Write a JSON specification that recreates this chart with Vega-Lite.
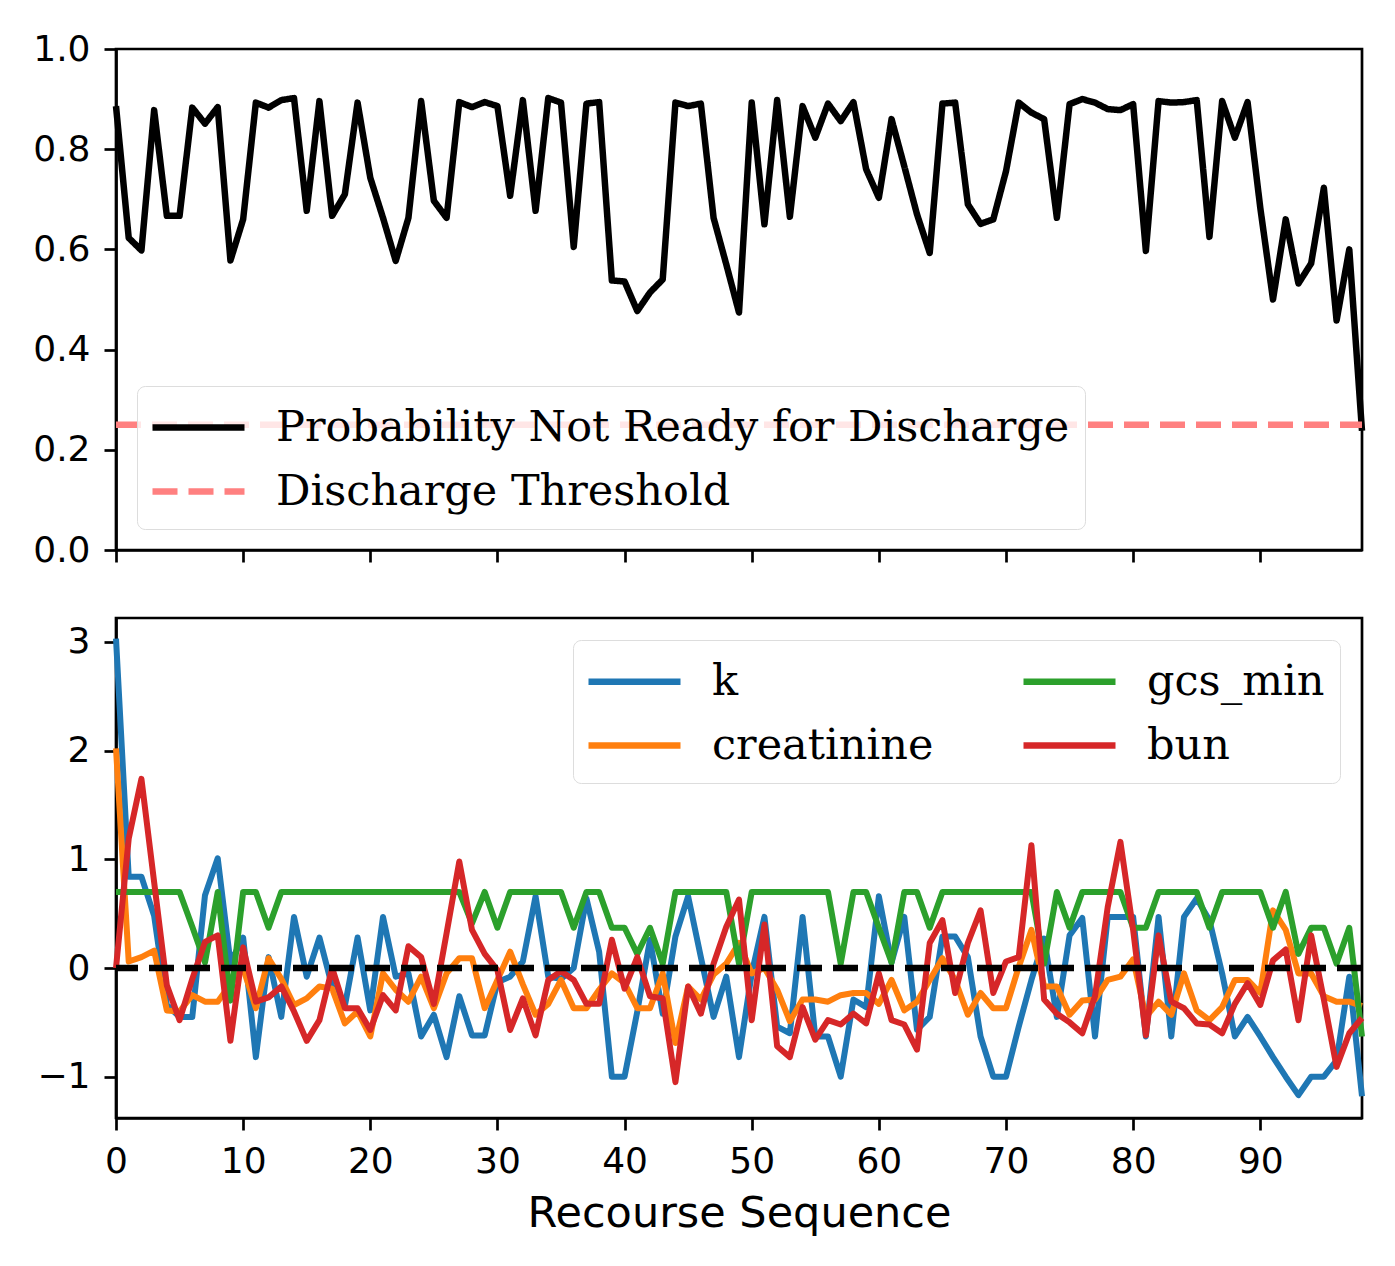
{
  "$schema": "https://vega.github.io/schema/vega-lite/v6.json",
  "padding": {"left": 31, "top": 29, "right": 20, "bottom": 20},
  "background": "white",
  "config": {
    "view": {"stroke": "black", "strokeWidth": 2.7},
    "axis": {
      "labelFont": "DejaVu Sans", "labelFontSize": 36, "labelColor": "black",
      "tickColor": "black", "tickSize": 12, "tickWidth": 2.7,
      "domainColor": "black", "domainWidth": 2.7, "grid": false,
      "titleFont": "DejaVu Sans", "titleFontSize": 43, "titleFontWeight": "normal", "titleColor": "black",
      "labelPadding": 14, "labelFlush": false
    },
    "legend": {
      "title": null, "symbolType": "M-2,0H2", "symbolSize": 2116, "symbolStrokeWidth": 6.5, "symbolOffset": 20,
      "labelFont": "DejaVu Serif", "labelFontSize": 43, "labelColor": "black", "labelOffset": 51,
      "labelLimit": 0, "rowPadding": 15, "padding": 15,
      "fillColor": "rgba(255,255,255,0.8)", "strokeColor": "#dddddd", "cornerRadius": 8
    }
  },
  "datasets": {
    "prob": [
      {"seq": 0, "value": 0.886, "series": "Probability Not Ready for Discharge"},
      {"seq": 1, "value": 0.623, "series": "Probability Not Ready for Discharge"},
      {"seq": 2, "value": 0.598, "series": "Probability Not Ready for Discharge"},
      {"seq": 3, "value": 0.878, "series": "Probability Not Ready for Discharge"},
      {"seq": 4, "value": 0.667, "series": "Probability Not Ready for Discharge"},
      {"seq": 5, "value": 0.667, "series": "Probability Not Ready for Discharge"},
      {"seq": 6, "value": 0.883, "series": "Probability Not Ready for Discharge"},
      {"seq": 7, "value": 0.851, "series": "Probability Not Ready for Discharge"},
      {"seq": 8, "value": 0.884, "series": "Probability Not Ready for Discharge"},
      {"seq": 9, "value": 0.578, "series": "Probability Not Ready for Discharge"},
      {"seq": 10, "value": 0.660, "series": "Probability Not Ready for Discharge"},
      {"seq": 11, "value": 0.893, "series": "Probability Not Ready for Discharge"},
      {"seq": 12, "value": 0.883, "series": "Probability Not Ready for Discharge"},
      {"seq": 13, "value": 0.898, "series": "Probability Not Ready for Discharge"},
      {"seq": 14, "value": 0.902, "series": "Probability Not Ready for Discharge"},
      {"seq": 15, "value": 0.677, "series": "Probability Not Ready for Discharge"},
      {"seq": 16, "value": 0.896, "series": "Probability Not Ready for Discharge"},
      {"seq": 17, "value": 0.667, "series": "Probability Not Ready for Discharge"},
      {"seq": 18, "value": 0.710, "series": "Probability Not Ready for Discharge"},
      {"seq": 19, "value": 0.893, "series": "Probability Not Ready for Discharge"},
      {"seq": 20, "value": 0.743, "series": "Probability Not Ready for Discharge"},
      {"seq": 21, "value": 0.663, "series": "Probability Not Ready for Discharge"},
      {"seq": 22, "value": 0.577, "series": "Probability Not Ready for Discharge"},
      {"seq": 23, "value": 0.663, "series": "Probability Not Ready for Discharge"},
      {"seq": 24, "value": 0.896, "series": "Probability Not Ready for Discharge"},
      {"seq": 25, "value": 0.697, "series": "Probability Not Ready for Discharge"},
      {"seq": 26, "value": 0.663, "series": "Probability Not Ready for Discharge"},
      {"seq": 27, "value": 0.894, "series": "Probability Not Ready for Discharge"},
      {"seq": 28, "value": 0.884, "series": "Probability Not Ready for Discharge"},
      {"seq": 29, "value": 0.894, "series": "Probability Not Ready for Discharge"},
      {"seq": 30, "value": 0.886, "series": "Probability Not Ready for Discharge"},
      {"seq": 31, "value": 0.707, "series": "Probability Not Ready for Discharge"},
      {"seq": 32, "value": 0.898, "series": "Probability Not Ready for Discharge"},
      {"seq": 33, "value": 0.677, "series": "Probability Not Ready for Discharge"},
      {"seq": 34, "value": 0.902, "series": "Probability Not Ready for Discharge"},
      {"seq": 35, "value": 0.893, "series": "Probability Not Ready for Discharge"},
      {"seq": 36, "value": 0.605, "series": "Probability Not Ready for Discharge"},
      {"seq": 37, "value": 0.891, "series": "Probability Not Ready for Discharge"},
      {"seq": 38, "value": 0.894, "series": "Probability Not Ready for Discharge"},
      {"seq": 39, "value": 0.538, "series": "Probability Not Ready for Discharge"},
      {"seq": 40, "value": 0.536, "series": "Probability Not Ready for Discharge"},
      {"seq": 41, "value": 0.477, "series": "Probability Not Ready for Discharge"},
      {"seq": 42, "value": 0.514, "series": "Probability Not Ready for Discharge"},
      {"seq": 43, "value": 0.540, "series": "Probability Not Ready for Discharge"},
      {"seq": 44, "value": 0.893, "series": "Probability Not Ready for Discharge"},
      {"seq": 45, "value": 0.886, "series": "Probability Not Ready for Discharge"},
      {"seq": 46, "value": 0.891, "series": "Probability Not Ready for Discharge"},
      {"seq": 47, "value": 0.663, "series": "Probability Not Ready for Discharge"},
      {"seq": 48, "value": 0.570, "series": "Probability Not Ready for Discharge"},
      {"seq": 49, "value": 0.474, "series": "Probability Not Ready for Discharge"},
      {"seq": 50, "value": 0.893, "series": "Probability Not Ready for Discharge"},
      {"seq": 51, "value": 0.650, "series": "Probability Not Ready for Discharge"},
      {"seq": 52, "value": 0.898, "series": "Probability Not Ready for Discharge"},
      {"seq": 53, "value": 0.665, "series": "Probability Not Ready for Discharge"},
      {"seq": 54, "value": 0.886, "series": "Probability Not Ready for Discharge"},
      {"seq": 55, "value": 0.823, "series": "Probability Not Ready for Discharge"},
      {"seq": 56, "value": 0.891, "series": "Probability Not Ready for Discharge"},
      {"seq": 57, "value": 0.856, "series": "Probability Not Ready for Discharge"},
      {"seq": 58, "value": 0.894, "series": "Probability Not Ready for Discharge"},
      {"seq": 59, "value": 0.760, "series": "Probability Not Ready for Discharge"},
      {"seq": 60, "value": 0.703, "series": "Probability Not Ready for Discharge"},
      {"seq": 61, "value": 0.860, "series": "Probability Not Ready for Discharge"},
      {"seq": 62, "value": 0.766, "series": "Probability Not Ready for Discharge"},
      {"seq": 63, "value": 0.670, "series": "Probability Not Ready for Discharge"},
      {"seq": 64, "value": 0.593, "series": "Probability Not Ready for Discharge"},
      {"seq": 65, "value": 0.891, "series": "Probability Not Ready for Discharge"},
      {"seq": 66, "value": 0.893, "series": "Probability Not Ready for Discharge"},
      {"seq": 67, "value": 0.690, "series": "Probability Not Ready for Discharge"},
      {"seq": 68, "value": 0.651, "series": "Probability Not Ready for Discharge"},
      {"seq": 69, "value": 0.660, "series": "Probability Not Ready for Discharge"},
      {"seq": 70, "value": 0.756, "series": "Probability Not Ready for Discharge"},
      {"seq": 71, "value": 0.893, "series": "Probability Not Ready for Discharge"},
      {"seq": 72, "value": 0.873, "series": "Probability Not Ready for Discharge"},
      {"seq": 73, "value": 0.860, "series": "Probability Not Ready for Discharge"},
      {"seq": 74, "value": 0.663, "series": "Probability Not Ready for Discharge"},
      {"seq": 75, "value": 0.890, "series": "Probability Not Ready for Discharge"},
      {"seq": 76, "value": 0.900, "series": "Probability Not Ready for Discharge"},
      {"seq": 77, "value": 0.893, "series": "Probability Not Ready for Discharge"},
      {"seq": 78, "value": 0.880, "series": "Probability Not Ready for Discharge"},
      {"seq": 79, "value": 0.878, "series": "Probability Not Ready for Discharge"},
      {"seq": 80, "value": 0.890, "series": "Probability Not Ready for Discharge"},
      {"seq": 81, "value": 0.597, "series": "Probability Not Ready for Discharge"},
      {"seq": 82, "value": 0.896, "series": "Probability Not Ready for Discharge"},
      {"seq": 83, "value": 0.893, "series": "Probability Not Ready for Discharge"},
      {"seq": 84, "value": 0.894, "series": "Probability Not Ready for Discharge"},
      {"seq": 85, "value": 0.898, "series": "Probability Not Ready for Discharge"},
      {"seq": 86, "value": 0.625, "series": "Probability Not Ready for Discharge"},
      {"seq": 87, "value": 0.896, "series": "Probability Not Ready for Discharge"},
      {"seq": 88, "value": 0.823, "series": "Probability Not Ready for Discharge"},
      {"seq": 89, "value": 0.894, "series": "Probability Not Ready for Discharge"},
      {"seq": 90, "value": 0.683, "series": "Probability Not Ready for Discharge"},
      {"seq": 91, "value": 0.500, "series": "Probability Not Ready for Discharge"},
      {"seq": 92, "value": 0.660, "series": "Probability Not Ready for Discharge"},
      {"seq": 93, "value": 0.532, "series": "Probability Not Ready for Discharge"},
      {"seq": 94, "value": 0.572, "series": "Probability Not Ready for Discharge"},
      {"seq": 95, "value": 0.723, "series": "Probability Not Ready for Discharge"},
      {"seq": 96, "value": 0.458, "series": "Probability Not Ready for Discharge"},
      {"seq": 97, "value": 0.600, "series": "Probability Not Ready for Discharge"},
      {"seq": 98, "value": 0.238, "series": "Probability Not Ready for Discharge"},
      {"seq": 0, "value": 0.25, "series": "Discharge Threshold"},
      {"seq": 98, "value": 0.25, "series": "Discharge Threshold"}
    ],
    "feat": [
      {"seq": 0, "value": 3.03, "series": "k"},
      {"seq": 1, "value": 0.84, "series": "k"},
      {"seq": 2, "value": 0.84, "series": "k"},
      {"seq": 3, "value": 0.48, "series": "k"},
      {"seq": 4, "value": -0.34, "series": "k"},
      {"seq": 5, "value": -0.45, "series": "k"},
      {"seq": 6, "value": -0.45, "series": "k"},
      {"seq": 7, "value": 0.67, "series": "k"},
      {"seq": 8, "value": 1.01, "series": "k"},
      {"seq": 9, "value": 0.05, "series": "k"},
      {"seq": 10, "value": 0.28, "series": "k"},
      {"seq": 11, "value": -0.82, "series": "k"},
      {"seq": 12, "value": 0.10, "series": "k"},
      {"seq": 13, "value": -0.45, "series": "k"},
      {"seq": 14, "value": 0.47, "series": "k"},
      {"seq": 15, "value": -0.08, "series": "k"},
      {"seq": 16, "value": 0.28, "series": "k"},
      {"seq": 17, "value": -0.17, "series": "k"},
      {"seq": 18, "value": -0.35, "series": "k"},
      {"seq": 19, "value": 0.28, "series": "k"},
      {"seq": 20, "value": -0.39, "series": "k"},
      {"seq": 21, "value": 0.47, "series": "k"},
      {"seq": 22, "value": -0.08, "series": "k"},
      {"seq": 23, "value": -0.05, "series": "k"},
      {"seq": 24, "value": -0.63, "series": "k"},
      {"seq": 25, "value": -0.43, "series": "k"},
      {"seq": 26, "value": -0.82, "series": "k"},
      {"seq": 27, "value": -0.26, "series": "k"},
      {"seq": 28, "value": -0.62, "series": "k"},
      {"seq": 29, "value": -0.62, "series": "k"},
      {"seq": 30, "value": -0.13, "series": "k"},
      {"seq": 31, "value": -0.08, "series": "k"},
      {"seq": 32, "value": 0.06, "series": "k"},
      {"seq": 33, "value": 0.66, "series": "k"},
      {"seq": 34, "value": -0.08, "series": "k"},
      {"seq": 35, "value": -0.10, "series": "k"},
      {"seq": 36, "value": 0.00, "series": "k"},
      {"seq": 37, "value": 0.64, "series": "k"},
      {"seq": 38, "value": 0.15, "series": "k"},
      {"seq": 39, "value": -1.00, "series": "k"},
      {"seq": 40, "value": -1.00, "series": "k"},
      {"seq": 41, "value": -0.40, "series": "k"},
      {"seq": 42, "value": 0.26, "series": "k"},
      {"seq": 43, "value": -0.42, "series": "k"},
      {"seq": 44, "value": 0.29, "series": "k"},
      {"seq": 45, "value": 0.66, "series": "k"},
      {"seq": 46, "value": 0.10, "series": "k"},
      {"seq": 47, "value": -0.45, "series": "k"},
      {"seq": 48, "value": -0.08, "series": "k"},
      {"seq": 49, "value": -0.82, "series": "k"},
      {"seq": 50, "value": -0.05, "series": "k"},
      {"seq": 51, "value": 0.47, "series": "k"},
      {"seq": 52, "value": -0.54, "series": "k"},
      {"seq": 53, "value": -0.60, "series": "k"},
      {"seq": 54, "value": 0.47, "series": "k"},
      {"seq": 55, "value": -0.63, "series": "k"},
      {"seq": 56, "value": -0.63, "series": "k"},
      {"seq": 57, "value": -1.00, "series": "k"},
      {"seq": 58, "value": -0.29, "series": "k"},
      {"seq": 59, "value": -0.36, "series": "k"},
      {"seq": 60, "value": 0.66, "series": "k"},
      {"seq": 61, "value": 0.05, "series": "k"},
      {"seq": 62, "value": 0.47, "series": "k"},
      {"seq": 63, "value": -0.57, "series": "k"},
      {"seq": 64, "value": -0.45, "series": "k"},
      {"seq": 65, "value": 0.29, "series": "k"},
      {"seq": 66, "value": 0.29, "series": "k"},
      {"seq": 67, "value": 0.10, "series": "k"},
      {"seq": 68, "value": -0.63, "series": "k"},
      {"seq": 69, "value": -1.00, "series": "k"},
      {"seq": 70, "value": -1.00, "series": "k"},
      {"seq": 71, "value": -0.54, "series": "k"},
      {"seq": 72, "value": -0.11, "series": "k"},
      {"seq": 73, "value": 0.27, "series": "k"},
      {"seq": 74, "value": -0.45, "series": "k"},
      {"seq": 75, "value": 0.30, "series": "k"},
      {"seq": 76, "value": 0.46, "series": "k"},
      {"seq": 77, "value": -0.63, "series": "k"},
      {"seq": 78, "value": 0.47, "series": "k"},
      {"seq": 79, "value": 0.47, "series": "k"},
      {"seq": 80, "value": 0.47, "series": "k"},
      {"seq": 81, "value": -0.63, "series": "k"},
      {"seq": 82, "value": 0.47, "series": "k"},
      {"seq": 83, "value": -0.63, "series": "k"},
      {"seq": 84, "value": 0.47, "series": "k"},
      {"seq": 85, "value": 0.64, "series": "k"},
      {"seq": 86, "value": 0.44, "series": "k"},
      {"seq": 87, "value": -0.05, "series": "k"},
      {"seq": 88, "value": -0.63, "series": "k"},
      {"seq": 89, "value": -0.45, "series": "k"},
      {"seq": 90, "value": -0.63, "series": "k"},
      {"seq": 91, "value": -0.82, "series": "k"},
      {"seq": 92, "value": -1.00, "series": "k"},
      {"seq": 93, "value": -1.17, "series": "k"},
      {"seq": 94, "value": -1.00, "series": "k"},
      {"seq": 95, "value": -1.00, "series": "k"},
      {"seq": 96, "value": -0.85, "series": "k"},
      {"seq": 97, "value": -0.08, "series": "k"},
      {"seq": 98, "value": -1.18, "series": "k"},
      {"seq": 0, "value": 2.02, "series": "creatinine"},
      {"seq": 1, "value": 0.06, "series": "creatinine"},
      {"seq": 2, "value": 0.10, "series": "creatinine"},
      {"seq": 3, "value": 0.16, "series": "creatinine"},
      {"seq": 4, "value": -0.39, "series": "creatinine"},
      {"seq": 5, "value": -0.40, "series": "creatinine"},
      {"seq": 6, "value": -0.25, "series": "creatinine"},
      {"seq": 7, "value": -0.31, "series": "creatinine"},
      {"seq": 8, "value": -0.31, "series": "creatinine"},
      {"seq": 9, "value": -0.15, "series": "creatinine"},
      {"seq": 10, "value": 0.00, "series": "creatinine"},
      {"seq": 11, "value": -0.37, "series": "creatinine"},
      {"seq": 12, "value": 0.09, "series": "creatinine"},
      {"seq": 13, "value": -0.10, "series": "creatinine"},
      {"seq": 14, "value": -0.34, "series": "creatinine"},
      {"seq": 15, "value": -0.28, "series": "creatinine"},
      {"seq": 16, "value": -0.17, "series": "creatinine"},
      {"seq": 17, "value": -0.19, "series": "creatinine"},
      {"seq": 18, "value": -0.51, "series": "creatinine"},
      {"seq": 19, "value": -0.40, "series": "creatinine"},
      {"seq": 20, "value": -0.63, "series": "creatinine"},
      {"seq": 21, "value": -0.05, "series": "creatinine"},
      {"seq": 22, "value": -0.20, "series": "creatinine"},
      {"seq": 23, "value": -0.31, "series": "creatinine"},
      {"seq": 24, "value": -0.08, "series": "creatinine"},
      {"seq": 25, "value": -0.37, "series": "creatinine"},
      {"seq": 26, "value": -0.05, "series": "creatinine"},
      {"seq": 27, "value": 0.09, "series": "creatinine"},
      {"seq": 28, "value": 0.09, "series": "creatinine"},
      {"seq": 29, "value": -0.37, "series": "creatinine"},
      {"seq": 30, "value": -0.11, "series": "creatinine"},
      {"seq": 31, "value": 0.15, "series": "creatinine"},
      {"seq": 32, "value": -0.15, "series": "creatinine"},
      {"seq": 33, "value": -0.43, "series": "creatinine"},
      {"seq": 34, "value": -0.33, "series": "creatinine"},
      {"seq": 35, "value": -0.11, "series": "creatinine"},
      {"seq": 36, "value": -0.37, "series": "creatinine"},
      {"seq": 37, "value": -0.37, "series": "creatinine"},
      {"seq": 38, "value": -0.20, "series": "creatinine"},
      {"seq": 39, "value": -0.05, "series": "creatinine"},
      {"seq": 40, "value": -0.14, "series": "creatinine"},
      {"seq": 41, "value": -0.37, "series": "creatinine"},
      {"seq": 42, "value": -0.37, "series": "creatinine"},
      {"seq": 43, "value": -0.05, "series": "creatinine"},
      {"seq": 44, "value": -0.69, "series": "creatinine"},
      {"seq": 45, "value": -0.17, "series": "creatinine"},
      {"seq": 46, "value": -0.29, "series": "creatinine"},
      {"seq": 47, "value": -0.06, "series": "creatinine"},
      {"seq": 48, "value": 0.04, "series": "creatinine"},
      {"seq": 49, "value": 0.23, "series": "creatinine"},
      {"seq": 50, "value": -0.05, "series": "creatinine"},
      {"seq": 51, "value": 0.00, "series": "creatinine"},
      {"seq": 52, "value": -0.20, "series": "creatinine"},
      {"seq": 53, "value": -0.49, "series": "creatinine"},
      {"seq": 54, "value": -0.29, "series": "creatinine"},
      {"seq": 55, "value": -0.29, "series": "creatinine"},
      {"seq": 56, "value": -0.31, "series": "creatinine"},
      {"seq": 57, "value": -0.25, "series": "creatinine"},
      {"seq": 58, "value": -0.23, "series": "creatinine"},
      {"seq": 59, "value": -0.23, "series": "creatinine"},
      {"seq": 60, "value": -0.33, "series": "creatinine"},
      {"seq": 61, "value": -0.11, "series": "creatinine"},
      {"seq": 62, "value": -0.39, "series": "creatinine"},
      {"seq": 63, "value": -0.31, "series": "creatinine"},
      {"seq": 64, "value": -0.11, "series": "creatinine"},
      {"seq": 65, "value": 0.09, "series": "creatinine"},
      {"seq": 66, "value": -0.11, "series": "creatinine"},
      {"seq": 67, "value": -0.43, "series": "creatinine"},
      {"seq": 68, "value": -0.23, "series": "creatinine"},
      {"seq": 69, "value": -0.37, "series": "creatinine"},
      {"seq": 70, "value": -0.37, "series": "creatinine"},
      {"seq": 71, "value": 0.01, "series": "creatinine"},
      {"seq": 72, "value": 0.35, "series": "creatinine"},
      {"seq": 73, "value": -0.17, "series": "creatinine"},
      {"seq": 74, "value": -0.17, "series": "creatinine"},
      {"seq": 75, "value": -0.43, "series": "creatinine"},
      {"seq": 76, "value": -0.30, "series": "creatinine"},
      {"seq": 77, "value": -0.29, "series": "creatinine"},
      {"seq": 78, "value": -0.11, "series": "creatinine"},
      {"seq": 79, "value": -0.08, "series": "creatinine"},
      {"seq": 80, "value": 0.08, "series": "creatinine"},
      {"seq": 81, "value": -0.45, "series": "creatinine"},
      {"seq": 82, "value": -0.31, "series": "creatinine"},
      {"seq": 83, "value": -0.43, "series": "creatinine"},
      {"seq": 84, "value": -0.05, "series": "creatinine"},
      {"seq": 85, "value": -0.39, "series": "creatinine"},
      {"seq": 86, "value": -0.48, "series": "creatinine"},
      {"seq": 87, "value": -0.36, "series": "creatinine"},
      {"seq": 88, "value": -0.11, "series": "creatinine"},
      {"seq": 89, "value": -0.11, "series": "creatinine"},
      {"seq": 90, "value": -0.23, "series": "creatinine"},
      {"seq": 91, "value": 0.53, "series": "creatinine"},
      {"seq": 92, "value": 0.35, "series": "creatinine"},
      {"seq": 93, "value": -0.05, "series": "creatinine"},
      {"seq": 94, "value": -0.05, "series": "creatinine"},
      {"seq": 95, "value": -0.26, "series": "creatinine"},
      {"seq": 96, "value": -0.31, "series": "creatinine"},
      {"seq": 97, "value": -0.31, "series": "creatinine"},
      {"seq": 98, "value": -0.35, "series": "creatinine"},
      {"seq": 0, "value": 0.70, "series": "gcs_min"},
      {"seq": 1, "value": 0.70, "series": "gcs_min"},
      {"seq": 2, "value": 0.70, "series": "gcs_min"},
      {"seq": 3, "value": 0.70, "series": "gcs_min"},
      {"seq": 4, "value": 0.70, "series": "gcs_min"},
      {"seq": 5, "value": 0.70, "series": "gcs_min"},
      {"seq": 6, "value": 0.38, "series": "gcs_min"},
      {"seq": 7, "value": 0.05, "series": "gcs_min"},
      {"seq": 8, "value": 0.70, "series": "gcs_min"},
      {"seq": 9, "value": -0.30, "series": "gcs_min"},
      {"seq": 10, "value": 0.70, "series": "gcs_min"},
      {"seq": 11, "value": 0.70, "series": "gcs_min"},
      {"seq": 12, "value": 0.37, "series": "gcs_min"},
      {"seq": 13, "value": 0.70, "series": "gcs_min"},
      {"seq": 14, "value": 0.70, "series": "gcs_min"},
      {"seq": 15, "value": 0.70, "series": "gcs_min"},
      {"seq": 16, "value": 0.70, "series": "gcs_min"},
      {"seq": 17, "value": 0.70, "series": "gcs_min"},
      {"seq": 18, "value": 0.70, "series": "gcs_min"},
      {"seq": 19, "value": 0.70, "series": "gcs_min"},
      {"seq": 20, "value": 0.70, "series": "gcs_min"},
      {"seq": 21, "value": 0.70, "series": "gcs_min"},
      {"seq": 22, "value": 0.70, "series": "gcs_min"},
      {"seq": 23, "value": 0.70, "series": "gcs_min"},
      {"seq": 24, "value": 0.70, "series": "gcs_min"},
      {"seq": 25, "value": 0.70, "series": "gcs_min"},
      {"seq": 26, "value": 0.70, "series": "gcs_min"},
      {"seq": 27, "value": 0.70, "series": "gcs_min"},
      {"seq": 28, "value": 0.41, "series": "gcs_min"},
      {"seq": 29, "value": 0.70, "series": "gcs_min"},
      {"seq": 30, "value": 0.37, "series": "gcs_min"},
      {"seq": 31, "value": 0.70, "series": "gcs_min"},
      {"seq": 32, "value": 0.70, "series": "gcs_min"},
      {"seq": 33, "value": 0.70, "series": "gcs_min"},
      {"seq": 34, "value": 0.70, "series": "gcs_min"},
      {"seq": 35, "value": 0.70, "series": "gcs_min"},
      {"seq": 36, "value": 0.37, "series": "gcs_min"},
      {"seq": 37, "value": 0.70, "series": "gcs_min"},
      {"seq": 38, "value": 0.70, "series": "gcs_min"},
      {"seq": 39, "value": 0.37, "series": "gcs_min"},
      {"seq": 40, "value": 0.37, "series": "gcs_min"},
      {"seq": 41, "value": 0.13, "series": "gcs_min"},
      {"seq": 42, "value": 0.37, "series": "gcs_min"},
      {"seq": 43, "value": 0.04, "series": "gcs_min"},
      {"seq": 44, "value": 0.70, "series": "gcs_min"},
      {"seq": 45, "value": 0.70, "series": "gcs_min"},
      {"seq": 46, "value": 0.70, "series": "gcs_min"},
      {"seq": 47, "value": 0.70, "series": "gcs_min"},
      {"seq": 48, "value": 0.70, "series": "gcs_min"},
      {"seq": 49, "value": 0.04, "series": "gcs_min"},
      {"seq": 50, "value": 0.70, "series": "gcs_min"},
      {"seq": 51, "value": 0.70, "series": "gcs_min"},
      {"seq": 52, "value": 0.70, "series": "gcs_min"},
      {"seq": 53, "value": 0.70, "series": "gcs_min"},
      {"seq": 54, "value": 0.70, "series": "gcs_min"},
      {"seq": 55, "value": 0.70, "series": "gcs_min"},
      {"seq": 56, "value": 0.70, "series": "gcs_min"},
      {"seq": 57, "value": 0.04, "series": "gcs_min"},
      {"seq": 58, "value": 0.70, "series": "gcs_min"},
      {"seq": 59, "value": 0.70, "series": "gcs_min"},
      {"seq": 60, "value": 0.37, "series": "gcs_min"},
      {"seq": 61, "value": 0.05, "series": "gcs_min"},
      {"seq": 62, "value": 0.70, "series": "gcs_min"},
      {"seq": 63, "value": 0.70, "series": "gcs_min"},
      {"seq": 64, "value": 0.37, "series": "gcs_min"},
      {"seq": 65, "value": 0.70, "series": "gcs_min"},
      {"seq": 66, "value": 0.70, "series": "gcs_min"},
      {"seq": 67, "value": 0.70, "series": "gcs_min"},
      {"seq": 68, "value": 0.70, "series": "gcs_min"},
      {"seq": 69, "value": 0.70, "series": "gcs_min"},
      {"seq": 70, "value": 0.70, "series": "gcs_min"},
      {"seq": 71, "value": 0.70, "series": "gcs_min"},
      {"seq": 72, "value": 0.70, "series": "gcs_min"},
      {"seq": 73, "value": 0.04, "series": "gcs_min"},
      {"seq": 74, "value": 0.70, "series": "gcs_min"},
      {"seq": 75, "value": 0.37, "series": "gcs_min"},
      {"seq": 76, "value": 0.70, "series": "gcs_min"},
      {"seq": 77, "value": 0.70, "series": "gcs_min"},
      {"seq": 78, "value": 0.70, "series": "gcs_min"},
      {"seq": 79, "value": 0.70, "series": "gcs_min"},
      {"seq": 80, "value": 0.37, "series": "gcs_min"},
      {"seq": 81, "value": 0.37, "series": "gcs_min"},
      {"seq": 82, "value": 0.70, "series": "gcs_min"},
      {"seq": 83, "value": 0.70, "series": "gcs_min"},
      {"seq": 84, "value": 0.70, "series": "gcs_min"},
      {"seq": 85, "value": 0.70, "series": "gcs_min"},
      {"seq": 86, "value": 0.37, "series": "gcs_min"},
      {"seq": 87, "value": 0.70, "series": "gcs_min"},
      {"seq": 88, "value": 0.70, "series": "gcs_min"},
      {"seq": 89, "value": 0.70, "series": "gcs_min"},
      {"seq": 90, "value": 0.70, "series": "gcs_min"},
      {"seq": 91, "value": 0.37, "series": "gcs_min"},
      {"seq": 92, "value": 0.70, "series": "gcs_min"},
      {"seq": 93, "value": 0.13, "series": "gcs_min"},
      {"seq": 94, "value": 0.37, "series": "gcs_min"},
      {"seq": 95, "value": 0.37, "series": "gcs_min"},
      {"seq": 96, "value": 0.04, "series": "gcs_min"},
      {"seq": 97, "value": 0.37, "series": "gcs_min"},
      {"seq": 98, "value": -0.63, "series": "gcs_min"},
      {"seq": 0, "value": 0.00, "series": "bun"},
      {"seq": 1, "value": 1.19, "series": "bun"},
      {"seq": 2, "value": 1.74, "series": "bun"},
      {"seq": 3, "value": 0.79, "series": "bun"},
      {"seq": 4, "value": -0.16, "series": "bun"},
      {"seq": 5, "value": -0.48, "series": "bun"},
      {"seq": 6, "value": -0.10, "series": "bun"},
      {"seq": 7, "value": 0.24, "series": "bun"},
      {"seq": 8, "value": 0.30, "series": "bun"},
      {"seq": 9, "value": -0.67, "series": "bun"},
      {"seq": 10, "value": 0.19, "series": "bun"},
      {"seq": 11, "value": -0.31, "series": "bun"},
      {"seq": 12, "value": -0.27, "series": "bun"},
      {"seq": 13, "value": -0.17, "series": "bun"},
      {"seq": 14, "value": -0.40, "series": "bun"},
      {"seq": 15, "value": -0.67, "series": "bun"},
      {"seq": 16, "value": -0.48, "series": "bun"},
      {"seq": 17, "value": 0.00, "series": "bun"},
      {"seq": 18, "value": -0.37, "series": "bun"},
      {"seq": 19, "value": -0.37, "series": "bun"},
      {"seq": 20, "value": -0.57, "series": "bun"},
      {"seq": 21, "value": -0.25, "series": "bun"},
      {"seq": 22, "value": -0.39, "series": "bun"},
      {"seq": 23, "value": 0.20, "series": "bun"},
      {"seq": 24, "value": 0.10, "series": "bun"},
      {"seq": 25, "value": -0.33, "series": "bun"},
      {"seq": 26, "value": 0.32, "series": "bun"},
      {"seq": 27, "value": 0.98, "series": "bun"},
      {"seq": 28, "value": 0.35, "series": "bun"},
      {"seq": 29, "value": 0.13, "series": "bun"},
      {"seq": 30, "value": -0.02, "series": "bun"},
      {"seq": 31, "value": -0.57, "series": "bun"},
      {"seq": 32, "value": -0.28, "series": "bun"},
      {"seq": 33, "value": -0.62, "series": "bun"},
      {"seq": 34, "value": -0.11, "series": "bun"},
      {"seq": 35, "value": -0.03, "series": "bun"},
      {"seq": 36, "value": -0.11, "series": "bun"},
      {"seq": 37, "value": -0.33, "series": "bun"},
      {"seq": 38, "value": -0.33, "series": "bun"},
      {"seq": 39, "value": 0.26, "series": "bun"},
      {"seq": 40, "value": -0.19, "series": "bun"},
      {"seq": 41, "value": 0.10, "series": "bun"},
      {"seq": 42, "value": -0.26, "series": "bun"},
      {"seq": 43, "value": -0.28, "series": "bun"},
      {"seq": 44, "value": -1.05, "series": "bun"},
      {"seq": 45, "value": -0.17, "series": "bun"},
      {"seq": 46, "value": -0.42, "series": "bun"},
      {"seq": 47, "value": 0.04, "series": "bun"},
      {"seq": 48, "value": 0.38, "series": "bun"},
      {"seq": 49, "value": 0.63, "series": "bun"},
      {"seq": 50, "value": -0.48, "series": "bun"},
      {"seq": 51, "value": 0.40, "series": "bun"},
      {"seq": 52, "value": -0.72, "series": "bun"},
      {"seq": 53, "value": -0.82, "series": "bun"},
      {"seq": 54, "value": -0.36, "series": "bun"},
      {"seq": 55, "value": -0.66, "series": "bun"},
      {"seq": 56, "value": -0.48, "series": "bun"},
      {"seq": 57, "value": -0.52, "series": "bun"},
      {"seq": 58, "value": -0.42, "series": "bun"},
      {"seq": 59, "value": -0.51, "series": "bun"},
      {"seq": 60, "value": -0.05, "series": "bun"},
      {"seq": 61, "value": -0.48, "series": "bun"},
      {"seq": 62, "value": -0.52, "series": "bun"},
      {"seq": 63, "value": -0.75, "series": "bun"},
      {"seq": 64, "value": 0.23, "series": "bun"},
      {"seq": 65, "value": 0.44, "series": "bun"},
      {"seq": 66, "value": -0.23, "series": "bun"},
      {"seq": 67, "value": 0.23, "series": "bun"},
      {"seq": 68, "value": 0.53, "series": "bun"},
      {"seq": 69, "value": -0.23, "series": "bun"},
      {"seq": 70, "value": 0.06, "series": "bun"},
      {"seq": 71, "value": 0.10, "series": "bun"},
      {"seq": 72, "value": 1.13, "series": "bun"},
      {"seq": 73, "value": -0.29, "series": "bun"},
      {"seq": 74, "value": -0.42, "series": "bun"},
      {"seq": 75, "value": -0.50, "series": "bun"},
      {"seq": 76, "value": -0.60, "series": "bun"},
      {"seq": 77, "value": -0.26, "series": "bun"},
      {"seq": 78, "value": 0.56, "series": "bun"},
      {"seq": 79, "value": 1.16, "series": "bun"},
      {"seq": 80, "value": 0.35, "series": "bun"},
      {"seq": 81, "value": -0.62, "series": "bun"},
      {"seq": 82, "value": 0.30, "series": "bun"},
      {"seq": 83, "value": -0.31, "series": "bun"},
      {"seq": 84, "value": -0.37, "series": "bun"},
      {"seq": 85, "value": -0.51, "series": "bun"},
      {"seq": 86, "value": -0.52, "series": "bun"},
      {"seq": 87, "value": -0.60, "series": "bun"},
      {"seq": 88, "value": -0.33, "series": "bun"},
      {"seq": 89, "value": -0.14, "series": "bun"},
      {"seq": 90, "value": -0.34, "series": "bun"},
      {"seq": 91, "value": 0.07, "series": "bun"},
      {"seq": 92, "value": 0.17, "series": "bun"},
      {"seq": 93, "value": -0.48, "series": "bun"},
      {"seq": 94, "value": 0.30, "series": "bun"},
      {"seq": 95, "value": -0.29, "series": "bun"},
      {"seq": 96, "value": -0.91, "series": "bun"},
      {"seq": 97, "value": -0.60, "series": "bun"},
      {"seq": 98, "value": -0.46, "series": "bun"}
    ]
  },
  "spacing": 46,
  "resolve": {"scale": {"color": "independent", "strokeDash": "independent"}},
  "vconcat": [
    {
      "width": 1246,
      "height": 501,
      "data": {"name": "prob"},
      "mark": {"type": "line", "strokeWidth": 6.5, "strokeJoin": "round"},
      "encoding": {
        "x": {
          "field": "seq", "type": "quantitative",
          "scale": {"domain": [0, 98], "nice": false, "zero": false},
          "axis": {"values": [0, 10, 20, 30, 40, 50, 60, 70, 80, 90], "labels": false, "title": null}
        },
        "y": {
          "field": "value", "type": "quantitative",
          "scale": {"domain": [0, 1], "nice": false},
          "axis": {"values": [0, 0.2, 0.4, 0.6, 0.8, 1.0], "format": ".1f", "title": null, "minExtent": 83, "maxExtent": 83}
        },
        "color": {
          "field": "series", "type": "nominal",
          "scale": {"domain": ["Probability Not Ready for Discharge", "Discharge Threshold"], "range": ["black", "#ff8080"]},
          "legend": {"orient": "bottom-left", "offset": 21}
        },
        "strokeDash": {
          "field": "series", "type": "nominal",
          "scale": {"domain": ["Probability Not Ready for Discharge", "Discharge Threshold"], "range": [[1, 0], [25, 11]]},
          "legend": {"orient": "bottom-left", "offset": 21}
        }
      }
    },
    {
      "width": 1246,
      "height": 500,
      "layer": [
        {
          "data": {"name": "feat"},
          "mark": {"type": "line", "strokeWidth": 6, "strokeJoin": "round"},
          "encoding": {
            "x": {
              "field": "seq", "type": "quantitative",
              "scale": {"domain": [0, 98], "nice": false, "zero": false},
              "axis": {"values": [0, 10, 20, 30, 40, 50, 60, 70, 80, 90], "title": "Recourse Sequence", "labelPadding": 14, "titlePadding": 13}
            },
            "y": {
              "field": "value", "type": "quantitative",
              "scale": {"domain": [-1.38, 3.22], "nice": false, "zero": false},
              "axis": {"values": [-1, 0, 1, 2, 3], "format": "d", "title": null, "minExtent": 83, "maxExtent": 83}
            },
            "color": {
              "field": "series", "type": "nominal",
              "scale": {"domain": ["k", "creatinine", "gcs_min", "bun"], "range": ["#1f77b4", "#ff7f0e", "#2ca02c", "#d62728"]},
              "legend": {"orient": "top-right", "offset": 22, "columns": 2, "columnPadding": 76}
            }
          }
        },
        {
          "data": {"values": [{"level": 0}]},
          "mark": {"type": "rule", "color": "black", "strokeWidth": 6.5, "strokeDash": [25, 11]},
          "encoding": {
            "y": {"field": "level", "type": "quantitative"}
          }
        }
      ]
    }
  ]
}
